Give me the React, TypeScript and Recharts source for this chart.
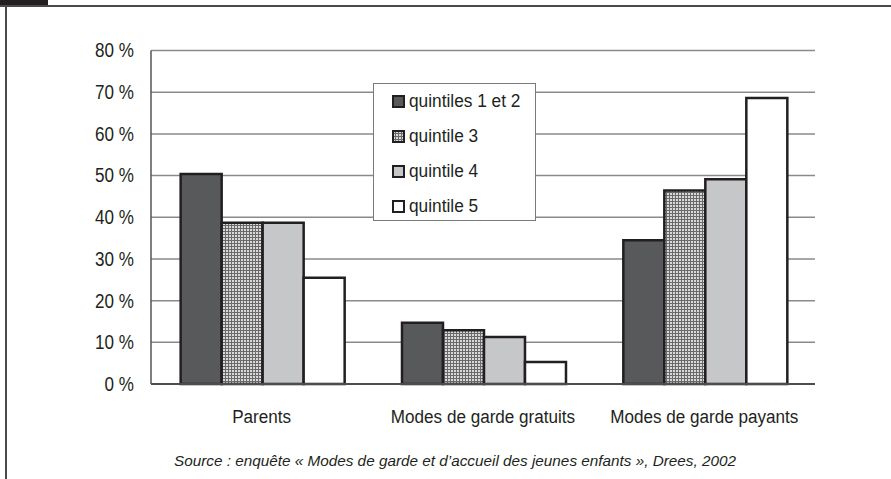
import { Bar, BarChart, CartesianGrid, Legend, XAxis, YAxis } from "recharts";

const categories = ["Parents", "Modes de garde gratuits", "Modes de garde payants"];
const quintiles12 = [50.4, 14.7, 34.5];
const quintile3 = [38.7, 12.9, 46.4];
const quintile4 = [38.7, 11.3, 49.1];
const quintile5 = [25.5, 5.3, 68.6];
const yTicks = [0, 10, 20, 30, 40, 50, 60, 70, 80];
const sourceText =
  "Source : enquête « Modes de garde et d’accueil des jeunes enfants », Drees, 2002";

const series = [
  { key: "q12", name: "quintiles 1 et 2", fill: "#58595b" },
  { key: "q3", name: "quintile 3", fill: "url(#checker)" },
  { key: "q4", name: "quintile 4", fill: "#c6c7c8" },
  { key: "q5", name: "quintile 5", fill: "#ffffff" },
];

const data = categories.map((name, i) => ({
  name,
  q12: quintiles12[i],
  q3: quintile3[i],
  q4: quintile4[i],
  q5: quintile5[i],
}));

const FONT = "'Liberation Sans', Arial, sans-serif";
const INK = "#231f20";

// the source uses a condensed face, so squeeze Liberation Sans horizontally
function XTick({ x, y, payload }: any) {
  return (
    <g transform={`translate(${x},${y})`}>
      <text
        transform="scale(0.9,1)"
        y={39}
        textAnchor="middle"
        fontFamily={FONT}
        fontSize={19}
        fill={INK}
      >
        {payload.value}
      </text>
    </g>
  );
}

function YTick({ x, y, payload }: any) {
  return (
    <g transform={`translate(${x},${y})`}>
      <text
        transform="scale(0.875,1)"
        dy="0.355em"
        textAnchor="end"
        fontFamily={FONT}
        fontSize={19.5}
        fill={INK}
      >
        {`${payload.value} %`}
      </text>
    </g>
  );
}

function LegendBox({ payload }: any) {
  const items = [...(payload || [])].sort(
    (a: any, b: any) =>
      series.findIndex((s) => s.name === a.value) -
      series.findIndex((s) => s.name === b.value)
  );
  return (
    <div
      style={{
        width: 163,
        height: 138,
        boxSizing: "border-box",
        border: "1px solid #7a7a7a",
        background: "#fff",
        paddingTop: 0,
        paddingLeft: 18,
        fontFamily: FONT,
        fontSize: 18,
        color: INK,
      }}
    >
      {items.map((entry: any) => (
        <div
          key={entry.value}
          style={{ display: "flex", alignItems: "center", height: 35, whiteSpace: "nowrap" }}
        >
          <svg width={13} height={13} style={{ marginRight: 4, flex: "none" }}>
            <rect
              x={1}
              y={1}
              width={11}
              height={11}
              fill={entry.payload?.fill ?? entry.color}
              stroke={INK}
              strokeWidth={2}
            />
          </svg>
          <span
            style={{
              display: "inline-block",
              transform: "scaleX(0.96)",
              transformOrigin: "left center",
            }}
          >
            {entry.value}
          </span>
        </div>
      ))}
    </div>
  );
}

export default function App() {
  return (
    <div
      style={{
        position: "fixed",
        left: 0,
        top: 0,
        width: 891,
        height: 479,
        background: "#fff",
        overflow: "hidden",
      }}
    >
      <div style={{ position: "absolute", left: 0, top: 0, width: 48, height: 5, background: INK }} />
      <div style={{ position: "absolute", left: 0, top: 5, width: 891, height: 2, background: "#4a4a4a" }} />
      <div style={{ position: "absolute", left: 5, top: 6, width: 2, height: 473, background: "#4a4a4a" }} />

      <BarChart
        width={891}
        height={479}
        data={data}
        margin={{ top: 50.5, right: 76, left: 91, bottom: 0 }}
        barCategoryGap="13.4%"
        barGap={0}
        style={{ position: "absolute", left: 0, top: 0 }}
      >
        <defs>
          <pattern id="checker" width={3} height={3} patternUnits="userSpaceOnUse">
            <rect width={3} height={3} fill="#d9d9d9" />
            <path d="M0 0.5H3M0.5 0V3" stroke="#6a6a6a" strokeWidth={1} />
          </pattern>
        </defs>
        <CartesianGrid vertical={false} stroke="#8a8a8a" strokeWidth={1.5} />
        <XAxis
          dataKey="name"
          height={95}
          axisLine={{ stroke: "#4d4d4d", strokeWidth: 2 }}
          tickLine={false}
          tickSize={0}
          tickMargin={0}
          tick={<XTick />}
        />
        <YAxis
          domain={[0, 80]}
          ticks={yTicks}
          width={60}
          axisLine={{ stroke: "#555", strokeWidth: 1.5 }}
          tickLine={false}
          tickSize={0}
          tickMargin={17}
          tick={<YTick />}
        />
        <YAxis
          yAxisId="right"
          orientation="right"
          domain={[0, 80]}
          width={0}
          tick={false}
          tickLine={false}
          axisLine={{ stroke: "#8a8a8a", strokeWidth: 1.5 }}
        />
        <Legend
          layout="vertical"
          align="center"
          verticalAlign="middle"
          content={<LegendBox />}
          wrapperStyle={{ left: 373, top: 83, width: 163, height: 138 }}
        />
        {series.map((s) => (
          <Bar
            key={s.key}
            dataKey={s.key}
            name={s.name}
            fill={s.fill}
            stroke={INK}
            strokeWidth={2.5}
            isAnimationActive={false}
          />
        ))}
      </BarChart>

      <div
        style={{
          position: "absolute",
          left: 0,
          width: 910,
          top: 452,
          textAlign: "center",
          fontFamily: FONT,
          fontStyle: "italic",
          fontSize: 15.3,
          color: INK,
        }}
      >
        {sourceText}
      </div>
    </div>
  );
}
